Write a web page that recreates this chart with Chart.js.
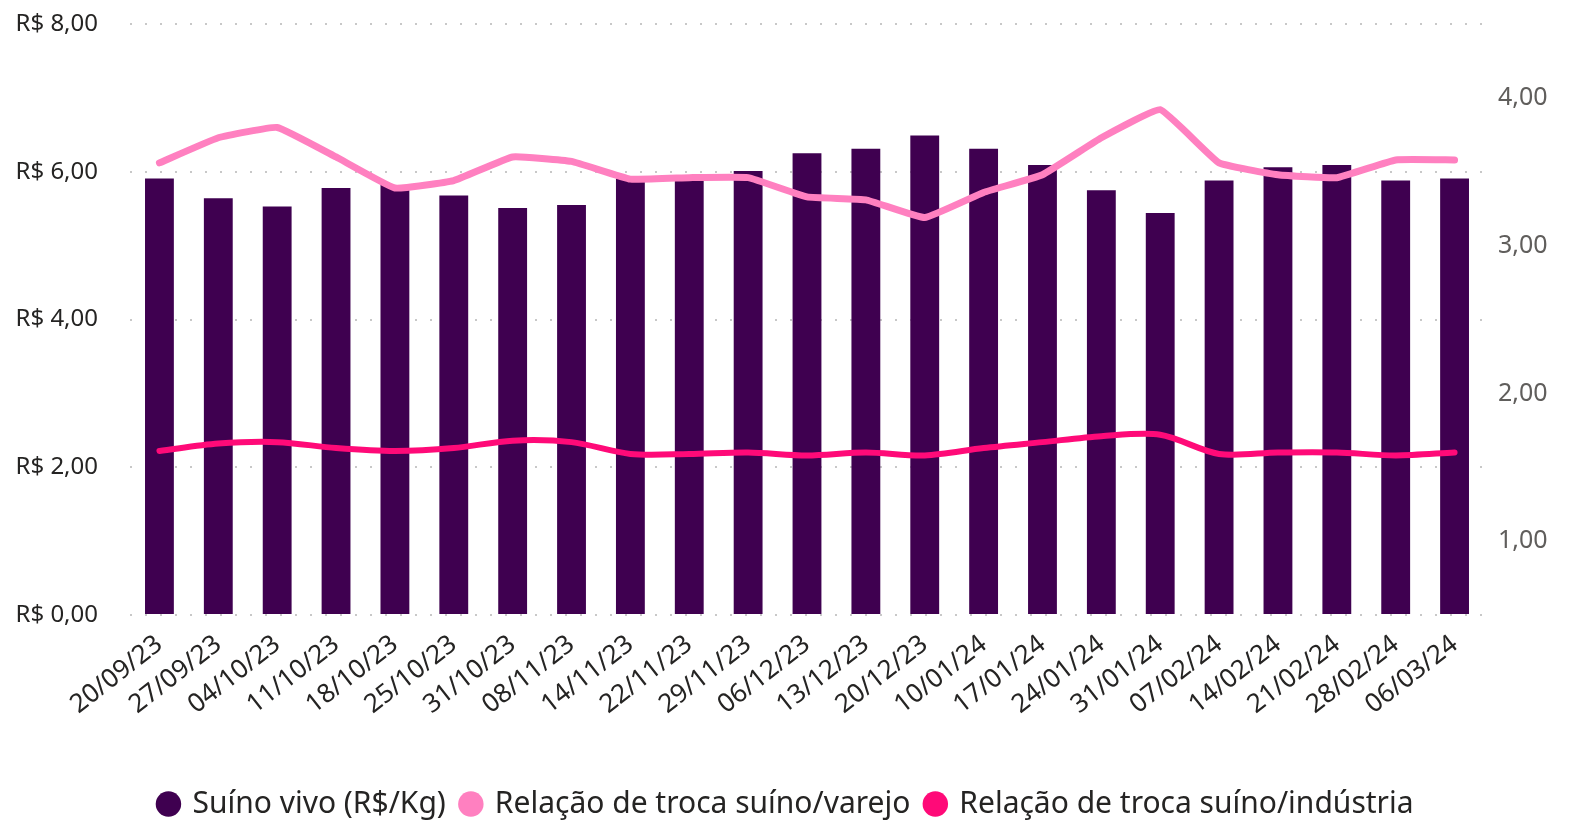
<!DOCTYPE html>
<html>
<head>
<meta charset="utf-8">
<script src="https://cdn.jsdelivr.net/npm/chart.js@4.4.1/dist/chart.umd.min.js"></script>
<style>
  html, body { margin: 0; padding: 0; background: #fff; }
  #wrap { width: 1573px; height: 822px; }
</style>
</head>
<body>
<div id="wrap"><canvas id="suinoChart"></canvas></div>
<script>
// datas semanais
const labels = ['20/09/23', '27/09/23', '04/10/23', '11/10/23', '18/10/23', '25/10/23', '31/10/23', '08/11/23',
  '14/11/23', '22/11/23', '29/11/23', '06/12/23', '13/12/23', '20/12/23', '10/01/24', '17/01/24',
  '24/01/24', '31/01/24', '07/02/24', '14/02/24', '21/02/24', '28/02/24', '06/03/24'];

// preço do suíno vivo (eixo esquerdo)
const suinoVivo = [5.91, 5.64, 5.53, 5.78, 5.82, 5.68, 5.51, 5.55, 5.91, 5.88, 6.01, 6.25,
  6.31, 6.49, 6.31, 6.09, 5.75, 5.44, 5.88, 6.06, 6.09, 5.88, 5.91];

// relações de troca (eixo direito)
const trocaVarejo = [3.56, 3.73, 3.80, 3.60, 3.39, 3.44, 3.60, 3.57, 3.45, 3.46, 3.46, 3.33,
  3.31, 3.19, 3.36, 3.48, 3.73, 3.92, 3.56, 3.48, 3.46, 3.58, 3.58];
const trocaIndustria = [1.61, 1.66, 1.67, 1.63, 1.61, 1.63, 1.68, 1.67, 1.59, 1.59, 1.60, 1.58,
  1.60, 1.58, 1.63, 1.67, 1.71, 1.72, 1.59, 1.60, 1.60, 1.58, 1.60];

const leftTicks = [0, 2, 4, 6, 8];
const rightTicks = [1, 2, 3, 4];

const fmt = v => v.toFixed(2).replace('.', ',');
const fontFamily = "'Noto Sans', 'Open Sans', sans-serif";

// fixa largura do eixo e tira o espaço extra em cima/embaixo
function fitY(width) {
  return scale => {
    scale.width = width;
    scale.paddingTop = 0;
    scale.paddingBottom = 0;
  };
}

const ctx = document.getElementById('suinoChart').getContext('2d');
new Chart(ctx, {
  type: 'bar',
  data: {
    labels: labels,
    datasets: [
      {
        label: 'Suíno vivo (R$/Kg)',
        data: suinoVivo,
        backgroundColor: '#3f0050',
        borderWidth: 0,
        categoryPercentage: 1,
        barPercentage: 0.49,
        yAxisID: 'y',
        order: 3
      },
      {
        type: 'line',
        label: 'Relação de troca suíno/varejo',
        data: trocaVarejo,
        borderColor: '#ff80c0',
        backgroundColor: '#ff80c0',
        borderWidth: 7,
        pointRadius: 0,
        tension: 0.1,
        borderCapStyle: 'round',
        yAxisID: 'y1',
        order: 1
      },
      {
        type: 'line',
        label: 'Relação de troca suíno/indústria',
        data: trocaIndustria,
        borderColor: '#ff0a78',
        backgroundColor: '#ff0a78',
        borderWidth: 6,
        pointRadius: 0,
        tension: 0.3,
        borderCapStyle: 'round',
        yAxisID: 'y1',
        order: 2
      }
    ]
  },
  options: {
    responsive: true,
    maintainAspectRatio: false,
    animation: false,
    layout: { padding: { left: 0, right: 0, top: 24, bottom: -7 } },
    plugins: {
      tooltip: { enabled: false },
      legend: {
        position: 'bottom',
        labels: {
          usePointStyle: true,
          pointStyle: 'circle',
          boxWidth: 18,
          boxHeight: 18,
          padding: 16,
          color: '#252423',
          font: { family: fontFamily, size: 30 },
          sort: (a, b) => a.datasetIndex - b.datasetIndex,
          // bolinhas todas do mesmo tamanho (sem contorno da linha)
          generateLabels: chart => Chart.defaults.plugins.legend.labels.generateLabels(chart)
            .map(item => ({ ...item, lineWidth: 0 }))
        }
      }
    },
    scales: {
      x: {
        grid: { display: false },
        border: { display: false },
        afterFit: scale => { scale.height = 158; },
        ticks: {
          color: '#252423',
          minRotation: 38,
          maxRotation: 38,
          autoSkip: false,
          padding: 6,
          font: { family: fontFamily, size: 26 }
        }
      },
      y: {
        position: 'left',
        min: 0,
        max: 8,
        afterBuildTicks: axis => { axis.ticks = leftTicks.map(v => ({ value: v })); },
        afterFit: fitY(130),
        grid: { color: '#c8c8c8', lineWidth: 2, drawTicks: false },
        border: { display: false, dash: [2, 13] },
        ticks: {
          color: '#252423',
          padding: 32,
          font: { family: fontFamily, size: 24 },
          callback: v => 'R$ ' + fmt(v)
        }
      },
      y1: {
        position: 'right',
        min: 0.5,
        max: 4.5,
        afterBuildTicks: axis => { axis.ticks = rightTicks.map(v => ({ value: v })); },
        afterFit: fitY(89),
        grid: { display: false },
        border: { display: false },
        ticks: {
          color: '#605e5c',
          padding: 6,
          font: { family: fontFamily, size: 25 },
          callback: v => fmt(v)
        }
      }
    }
  }
});
</script>
</body>
</html>
